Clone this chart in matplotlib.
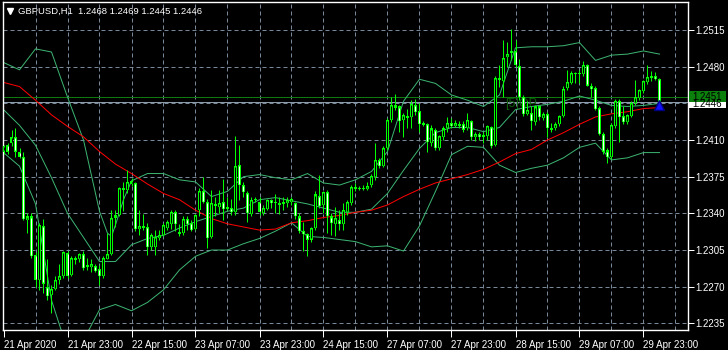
import matplotlib
matplotlib.use("Agg")
import matplotlib.pyplot as plt
from matplotlib.patches import Rectangle
from matplotlib.lines import Line2D
import numpy as np

plt.rcParams["font.family"] = ["Liberation Sans", "DejaVu Sans"]

# ---------------- DATA (GBPUSD H1) ----------------
open_ = [
    1.2399, 1.2405, 1.2407, 1.2413, 1.2399, 1.2394, 1.2334, 1.2337, 1.2300, 1.2276,
    1.2328, 1.2270, 1.2262, 1.2268, 1.2276, 1.2280, 1.2302, 1.2281, 1.2297, 1.2296,
    1.2301, 1.2289, 1.2289, 1.2290, 1.2287, 1.2280, 1.2296, 1.2301, 1.2336, 1.2338,
    1.2364, 1.2362, 1.2368, 1.2369, 1.2325, 1.2328, 1.2327, 1.2308, 1.2308, 1.2316,
    1.2319, 1.2326, 1.2330, 1.2341, 1.2322, 1.2321, 1.2335, 1.2331, 1.2325, 1.2343,
    1.2361, 1.2351, 1.2317, 1.2349, 1.2346, 1.2351, 1.2344, 1.2345, 1.2341, 1.2386,
    1.2367, 1.2359, 1.2339, 1.2353, 1.2351, 1.2340, 1.2344, 1.2353, 1.2350, 1.2350,
    1.2349, 1.2350, 1.2351, 1.2350, 1.2337, 1.2323, 1.2320, 1.2315, 1.2326, 1.2357,
    1.2348, 1.2360, 1.2337, 1.2330, 1.2334, 1.2330, 1.2341, 1.2350, 1.2365, 1.2363,
    1.2364, 1.2363, 1.2367, 1.2375, 1.2391, 1.2385, 1.2402, 1.2429, 1.2443, 1.2442,
    1.2429, 1.2433, 1.2432, 1.2443, 1.2438, 1.2424, 1.2425, 1.2407, 1.2420, 1.2402,
    1.2413, 1.2421, 1.2426, 1.2423, 1.2425, 1.2425, 1.2421, 1.2428, 1.2413, 1.2416,
    1.2413, 1.2414, 1.2422, 1.2405, 1.2469, 1.2466, 1.2489, 1.2493, 1.2495, 1.2481,
    1.2451, 1.2435, 1.2436, 1.2427, 1.2442, 1.2431, 1.2435, 1.2421, 1.2421, 1.2425,
    1.2433, 1.2460, 1.2464, 1.2474, 1.2473, 1.2473, 1.2482, 1.2462, 1.2460, 1.2441,
    1.2416, 1.2400, 1.2394, 1.2423, 1.2447, 1.2433, 1.2427, 1.2433, 1.2445, 1.2450,
    1.2457, 1.2465, 1.2469, 1.2471, 1.2468,
]
close_ = [
    1.2404, 1.2399, 1.2413, 1.2399, 1.2394, 1.2335, 1.2337, 1.2299, 1.2276, 1.2329,
    1.2273, 1.2261, 1.2268, 1.2276, 1.2280, 1.2303, 1.2280, 1.2297, 1.2295, 1.2301,
    1.2288, 1.2291, 1.2292, 1.2285, 1.2280, 1.2297, 1.2301, 1.2336, 1.2338, 1.2364,
    1.2362, 1.2370, 1.2371, 1.2325, 1.2328, 1.2326, 1.2308, 1.2319, 1.2317, 1.2319,
    1.2329, 1.2332, 1.2341, 1.2330, 1.2320, 1.2335, 1.2330, 1.2324, 1.2338, 1.2361,
    1.2351, 1.2316, 1.2350, 1.2347, 1.2350, 1.2344, 1.2346, 1.2341, 1.2385, 1.2367,
    1.2360, 1.2340, 1.2353, 1.2354, 1.2341, 1.2345, 1.2353, 1.2350, 1.2351, 1.2348,
    1.2351, 1.2353, 1.2354, 1.2337, 1.2323, 1.2320, 1.2315, 1.2326, 1.2358, 1.2347,
    1.2360, 1.2337, 1.2331, 1.2336, 1.2330, 1.2343, 1.2351, 1.2365, 1.2363, 1.2364,
    1.2363, 1.2366, 1.2376, 1.2391, 1.2385, 1.2402, 1.2429, 1.2443, 1.2441, 1.2428,
    1.2434, 1.2431, 1.2444, 1.2437, 1.2425, 1.2426, 1.2408, 1.2421, 1.2402, 1.2414,
    1.2421, 1.2426, 1.2423, 1.2426, 1.2423, 1.2420, 1.2429, 1.2413, 1.2416, 1.2413,
    1.2415, 1.2423, 1.2404, 1.2469, 1.2467, 1.2488, 1.2492, 1.2495, 1.2482, 1.2451,
    1.2435, 1.2439, 1.2428, 1.2442, 1.2432, 1.2435, 1.2421, 1.2420, 1.2425, 1.2433,
    1.2459, 1.2465, 1.2474, 1.2473, 1.2474, 1.2482, 1.2462, 1.2459, 1.2440, 1.2416,
    1.2399, 1.2394, 1.2424, 1.2447, 1.2432, 1.2427, 1.2434, 1.2445, 1.2451, 1.2458,
    1.2466, 1.2470, 1.2471, 1.2468, 1.2446,
]
high_ = [
    1.2405, 1.2407, 1.2420, 1.2421, 1.2402, 1.2399, 1.2340, 1.2340, 1.2303, 1.2331,
    1.2335, 1.2296, 1.2272, 1.2280, 1.2292, 1.2304, 1.2304, 1.2299, 1.2299, 1.2302,
    1.2304, 1.2297, 1.2296, 1.2292, 1.2291, 1.2299, 1.2321, 1.2343, 1.2343, 1.2365,
    1.2370, 1.2381, 1.2374, 1.2370, 1.2343, 1.2339, 1.2331, 1.2321, 1.2324, 1.2324,
    1.2331, 1.2334, 1.2343, 1.2343, 1.2330, 1.2337, 1.2337, 1.2334, 1.2339, 1.2364,
    1.2375, 1.2354, 1.2362, 1.2356, 1.2362, 1.2373, 1.2356, 1.2354, 1.2414, 1.2405,
    1.2370, 1.2361, 1.2356, 1.2356, 1.2356, 1.2348, 1.2354, 1.2354, 1.2358, 1.2356,
    1.2356, 1.2356, 1.2356, 1.2351, 1.2340, 1.2332, 1.2321, 1.2327, 1.2361, 1.2377,
    1.2361, 1.2362, 1.2340, 1.2346, 1.2343, 1.2350, 1.2353, 1.2367, 1.2369, 1.2366,
    1.2367, 1.2370, 1.2378, 1.2407, 1.2393, 1.2404, 1.2431, 1.2451, 1.2454, 1.2443,
    1.2436, 1.2440, 1.2448, 1.2449, 1.2445, 1.2428, 1.2426, 1.2424, 1.2421, 1.2415,
    1.2423, 1.2432, 1.2431, 1.2429, 1.2428, 1.2428, 1.2436, 1.2429, 1.2418, 1.2418,
    1.2418, 1.2424, 1.2423, 1.2471, 1.2482, 1.2505, 1.2504, 1.2516, 1.2505, 1.2487,
    1.2453, 1.2447, 1.2442, 1.2443, 1.2443, 1.2437, 1.2437, 1.2426, 1.2427, 1.2434,
    1.2462, 1.2477, 1.2476, 1.2475, 1.2477, 1.2485, 1.2483, 1.2464, 1.2462, 1.2442,
    1.2418, 1.2402, 1.2426, 1.2449, 1.2449, 1.2442, 1.2435, 1.2447, 1.2467, 1.2459,
    1.2467, 1.2482, 1.2476, 1.2475, 1.2469,
]
low_ = [
    1.2397, 1.2397, 1.2404, 1.2394, 1.2393, 1.2334, 1.2321, 1.2297, 1.2270, 1.2267,
    1.2264, 1.2257, 1.2245, 1.2267, 1.2273, 1.2278, 1.2278, 1.2280, 1.2292, 1.2294,
    1.2286, 1.2286, 1.2284, 1.2284, 1.2272, 1.2278, 1.2296, 1.2300, 1.2327, 1.2337,
    1.2342, 1.2359, 1.2366, 1.2323, 1.2319, 1.2324, 1.2300, 1.2305, 1.2300, 1.2315,
    1.2318, 1.2324, 1.2325, 1.2323, 1.2318, 1.2319, 1.2324, 1.2323, 1.2324, 1.2337,
    1.2350, 1.2307, 1.2316, 1.2337, 1.2340, 1.2334, 1.2343, 1.2338, 1.2338, 1.2353,
    1.2356, 1.2332, 1.2337, 1.2351, 1.2338, 1.2338, 1.2343, 1.2345, 1.2340, 1.2339,
    1.2343, 1.2346, 1.2348, 1.2335, 1.2321, 1.2304, 1.2299, 1.2313, 1.2324, 1.2345,
    1.2340, 1.2321, 1.2319, 1.2318, 1.2324, 1.2324, 1.2338, 1.2348, 1.2361, 1.2362,
    1.2362, 1.2362, 1.2365, 1.2372, 1.2383, 1.2384, 1.2400, 1.2427, 1.2439, 1.2418,
    1.2413, 1.2421, 1.2421, 1.2434, 1.2418, 1.2423, 1.2399, 1.2404, 1.2400, 1.2400,
    1.2410, 1.2418, 1.2421, 1.2422, 1.2421, 1.2418, 1.2420, 1.2410, 1.2409, 1.2410,
    1.2407, 1.2410, 1.2402, 1.2404, 1.2461, 1.2451, 1.2480, 1.2486, 1.2480, 1.2448,
    1.2433, 1.2434, 1.2420, 1.2424, 1.2429, 1.2429, 1.2413, 1.2418, 1.2420, 1.2423,
    1.2432, 1.2458, 1.2463, 1.2464, 1.2464, 1.2471, 1.2462, 1.2451, 1.2439, 1.2415,
    1.2397, 1.2388, 1.2392, 1.2421, 1.2408, 1.2425, 1.2425, 1.2432, 1.2443, 1.2448,
    1.2455, 1.2463, 1.2466, 1.2467, 1.2445,
]

# indicator lines, read every 4 bars
band_bars = list(range(0, 165, 4))
upper_bars = band_bars[:7] + [26, 27, 28, 30] + band_bars[8:]
upper_band = [
    1.2484, 1.2477, 1.2497, 1.2494, 1.2451, 1.2410, 1.2342, 1.2321, 1.2318, 1.2329,
    1.2353, 1.2371, 1.2378, 1.2378, 1.2372, 1.2370, 1.2356, 1.2361, 1.2375, 1.2377,
    1.2374, 1.2372, 1.2378, 1.2369, 1.2367, 1.2372, 1.2380, 1.2399, 1.2447, 1.2468,
    1.2464, 1.2453, 1.2448, 1.2442, 1.2453, 1.2498, 1.2499, 1.2499, 1.2500, 1.2503,
    1.2486, 1.2491, 1.2492, 1.2495, 1.2492,
]
middle_band = [
    1.2439, 1.2424, 1.2405, 1.2374, 1.2340, 1.2317, 1.2294, 1.2294, 1.2310, 1.2316,
    1.2319, 1.2326, 1.2332, 1.2337, 1.2342, 1.2345, 1.2353, 1.2355, 1.2352, 1.2349,
    1.2345, 1.2341, 1.2341, 1.2344, 1.2359, 1.2381, 1.2402, 1.2417, 1.2422, 1.2422,
    1.2418, 1.2422, 1.2439, 1.2442, 1.2444, 1.2447, 1.2452, 1.2448, 1.2443, 1.2442,
    1.2443, 1.2445,
]
lower_band = [
    1.2398, 1.2385, 1.2349, 1.2257, 1.2210, 1.2219, 1.2248, 1.2253, 1.2247, 1.2255,
    1.2267, 1.2286, 1.2299, 1.2305, 1.2305, 1.2311, 1.2316, 1.2323, 1.2331, 1.2318,
    1.2317, 1.2315, 1.2313, 1.2308, 1.2309, 1.2304, 1.2328, 1.2361, 1.2396, 1.2404,
    1.2403, 1.2386, 1.2379, 1.2383, 1.2386, 1.2393, 1.2403, 1.2407, 1.2391, 1.2393,
    1.2398, 1.2398,
]
moving_avg = [
    1.2465, 1.2461, 1.2448, 1.2434, 1.2423, 1.2413, 1.2399, 1.2387, 1.2378, 1.2368,
    1.2359, 1.2353, 1.2343, 1.2335, 1.2330, 1.2327, 1.2324, 1.2325, 1.2331, 1.2333,
    1.2336, 1.2338, 1.2341, 1.2343, 1.2348, 1.2356, 1.2363, 1.2369, 1.2373, 1.2377,
    1.2382, 1.2389, 1.2397, 1.2401, 1.2410, 1.2417, 1.2425, 1.2432, 1.2435, 1.2437,
    1.2440, 1.2441,
]

price_ticks = [1.2235, 1.2270, 1.2305, 1.2340, 1.2375, 1.2410, 1.2445, 1.2480, 1.2515]
time_bars = [0, 16, 32, 48, 64, 80, 96, 112, 128, 144, 160]
time_labels = ["21 Apr 2020", "21 Apr 23:00", "22 Apr 15:00", "23 Apr 07:00",
               "23 Apr 23:00", "24 Apr 15:00", "27 Apr 07:00", "27 Apr 23:00",
               "28 Apr 15:00", "29 Apr 07:00", "29 Apr 23:00"]
ask_price = 1.2451
bid_price = 1.2446
title = "GBPUSD,H1  1.2468 1.2469 1.2445 1.2446"

# ---------------- FIGURE ----------------
W, H = 728, 350
fig = plt.figure(figsize=(W / 100, H / 100), dpi=100, facecolor="black")
ax = fig.add_axes([3 / W, 20 / H, 685 / W, 328 / H])
ax.set_facecolor("black")

lime = "#00FF00"
px = 0.72  # one pixel in points

o = np.array(open_)
c = np.array(close_)
hi = np.array(high_)
lo = np.array(low_)
idx = np.arange(len(c))

ax.set_xlim(-0.125, 171.125)
ax.set_ylim(1.222865, 1.254173)

# grid
for p in price_ticks:
    ax.axhline(p, color="#778899", lw=px, ls=(0, (4, 3)), zorder=0)
for b in range(8, 172, 8):
    ax.axvline(b, color="#778899", lw=px, ls=(0, (4, 3)), zorder=0)

# ask / bid lines
ax.axhline(ask_price, color="#0E7A0E", lw=px, zorder=1)
ax.axhline(bid_price, color="#8C9BAA", lw=px, zorder=1)

# bollinger bands and moving average
band_col = "#3CB371"
ax.plot(upper_bars, upper_band, color=band_col, lw=px, zorder=2)
ax.plot(band_bars, middle_band, color=band_col, lw=px, zorder=2)
ax.plot(band_bars, lower_band, color=band_col, lw=px, zorder=2)
ax.plot(band_bars, moving_avg, color="red", lw=px, zorder=2)

# candles
ax.vlines(idx, lo, hi, color=lime, lw=px, zorder=3)
body_lo = np.minimum(o, c)
body_hi = np.maximum(o, c)
ax.bar(idx, np.maximum(body_hi - body_lo, 0.00005), bottom=body_lo, width=0.75,
       color=lime, lw=0, zorder=4)
pad = 0.0001
tall = (body_hi - body_lo) > 2.2 * pad
bull = c >= o
ax.vlines(idx[tall & bull], body_lo[tall & bull] + pad, body_hi[tall & bull] - pad,
          color="black", lw=px, zorder=5)
ax.vlines(idx[tall & ~bull], body_lo[tall & ~bull] + pad, body_hi[tall & ~bull] - pad,
          color="white", lw=px, zorder=5)

# object label and trade arrow
ax.text(125.5, 1.24439, "[5]OP", color="#0B5F0B", fontsize=9, va="center", zorder=1)
ax.plot([164], [1.2443], marker="^", color="#1010FF", ms=7, mec="#000080", zorder=6)

# axes look
for s in ax.spines.values():
    s.set_color("white")
    s.set_linewidth(1)
ax.yaxis.tick_right()
ax.set_yticks(price_ticks)
ax.set_yticklabels([f"{p:.4f}" for p in price_ticks])
ax.set_xticks(time_bars)
ax.set_xticklabels(time_labels, ha="left")
ax.tick_params(axis="y", colors="white", labelsize=7, length=4, width=px, pad=1)
ax.tick_params(axis="x", colors="white", labelsize=7, length=5, width=px, pad=2)

# title
fig.text(18 / W, 1 - 11 / H, title, color="white", fontsize=6.8, va="center")
fig.add_artist(Line2D([10 / W], [1 - 11 / H], marker="v", ms=5, color="white",
                      transform=fig.transFigure))

# price boxes on the right (white bid box partly hidden by the green ask box)
fig.add_artist(Rectangle((689 / W, 1 - 108 / H), 37 / W, 11 / H, transform=fig.transFigure,
                         facecolor="white", edgecolor="none"))
fig.text(692 / W, 1 - 104 / H, "1.2446", color="black", fontsize=7, va="center")
fig.add_artist(Rectangle((689 / W, 1 - 102 / H), 37 / W, 11 / H, transform=fig.transFigure,
                         facecolor="#0C800C", edgecolor="none"))
fig.text(692 / W, 1 - 96.5 / H, "1.2451", color="black", fontsize=7, va="center")

plt.savefig("out.png", dpi=100, facecolor="black")
plt.close()
